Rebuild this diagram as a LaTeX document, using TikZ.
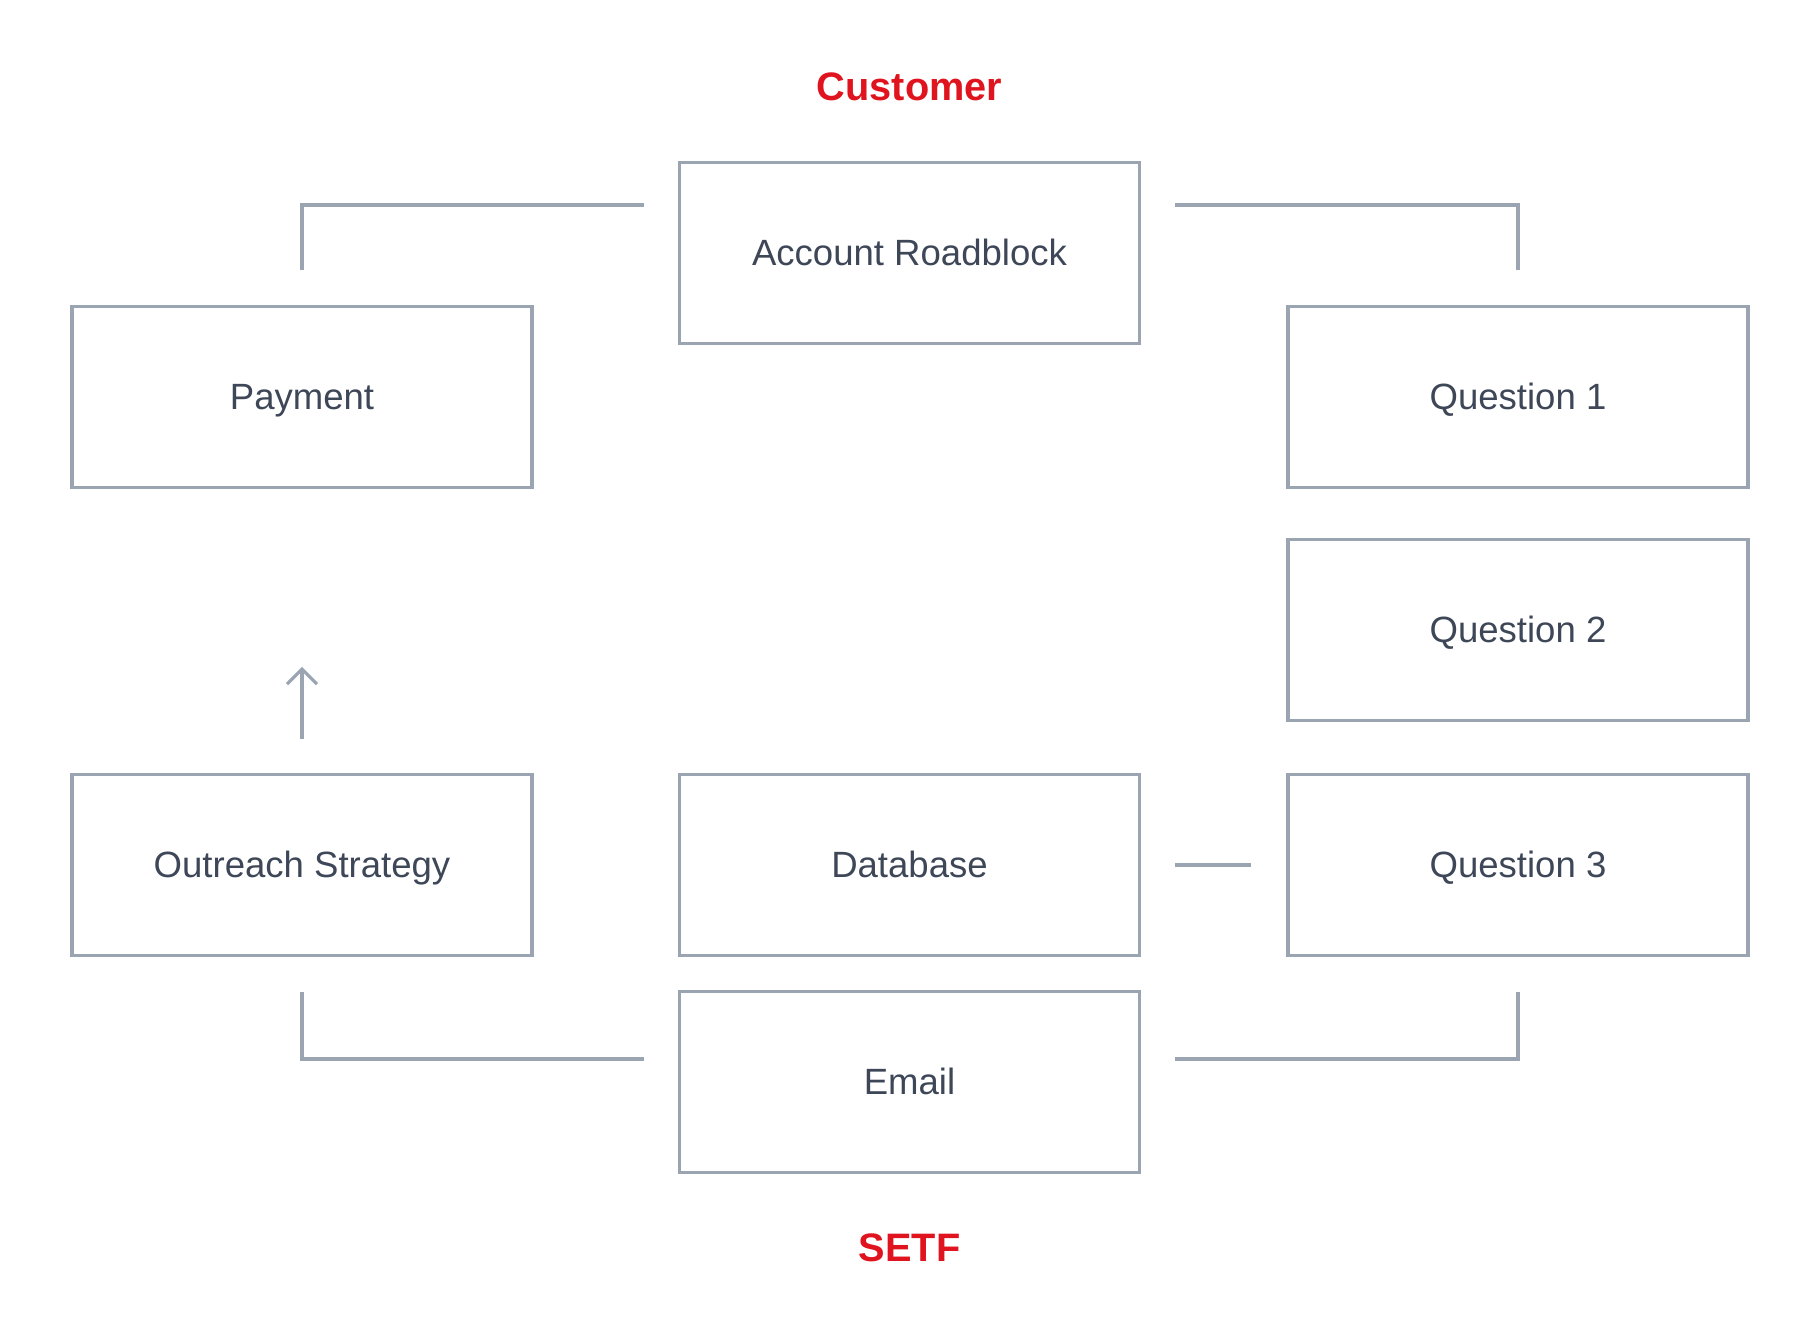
\documentclass[tikz,border=0pt]{standalone}
\usepackage{fontspec}
\setmainfont{Liberation Sans}
\usetikzlibrary{positioning,arrows.meta}
\definecolor{boxline}{HTML}{9AA5B1}
\definecolor{boxtext}{HTML}{3E4757}
\definecolor{setfred}{HTML}{E0141E}
\tikzset{
  block/.style={draw=boxline, line width=0.95pt, minimum width=4.6cm,
                minimum height=1.81cm, text=boxtext,
                text height=1.38ex, text depth=0pt,
                font=\fontsize{10.4}{12}\selectfont},
  title/.style={text=setfred, font=\fontsize{11.3}{13}\selectfont\bfseries},
  link/.style={draw=boxline, line width=0.9pt,
               shorten <=0.34cm, shorten >=0.35cm},
}
\tikzset{
	>={Straight Barb[length=1.5mm, width=3mm]},
}

\begin{document}
\begin{tikzpicture}

\useasboundingbox (0,0) rectangle (18.2,13.36);

\node[title](cust) at (9.095,12.49) {Customer};
\node[title](setf) at (9.095,0.88) {SETF};

\node[block](acct) at (9.095,10.83) {Account Roadblock};
\node[block](pay) at (3.02,9.39) {Payment};
\node[block](q1) at (15.18,9.39) {Question 1};
\node[block](q2) at (15.18,7.06) {Question 2};
\node[block](out) at (3.02,4.71) {Outreach Strategy};
\node[block](db) at (9.095,4.71) {Database};
\node[block](q3) at (15.18,4.71) {Question 3};
\node[block](email) at (9.095,2.54) {Email};

\coordinate[above=1.06cm of out.north](tip);

\draw[link] ([yshift=4.8mm]acct.west) -| (pay.north);
\draw[link] ([yshift=4.8mm]acct.east) -| (q1.north);
\draw[link] ([yshift=2.3mm]email.west) -| (out.south);
\draw[link] ([yshift=2.3mm]email.east) -| (q3.south);
\draw[link] (db) -- (q3);
\draw[link, shorten >=0pt, ->] (out.north) -- (tip);

\end{tikzpicture}
\end{document}
